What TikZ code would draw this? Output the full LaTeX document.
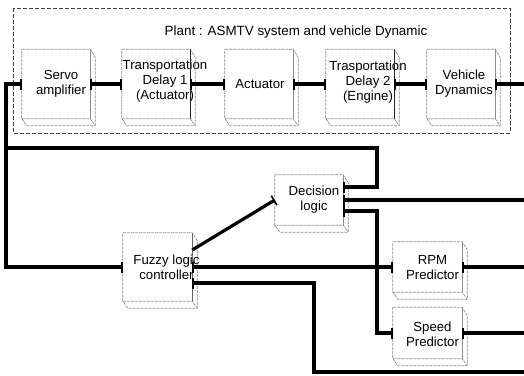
\documentclass[tikz,border=0pt]{standalone}
\usepackage{fontspec}
\setmainfont{Liberation Sans}
\usetikzlibrary{arrows.meta,calc}
\begin{document}
\begin{tikzpicture}[x=1pt,y=-1pt,
  conn/.style={line width=3.2pt},
  barend/.tip={Bar[width=11pt,line width=1.6pt]},
  box/.style={minimum width=68pt,inner sep=0pt,draw=none},
  lbl/.style={align=center,font=\fontsize{13.2}{15}\selectfont,inner sep=0pt},
  bev/.style={draw=black!45,line width=0.7pt,dash pattern=on 3pt off 1pt},
  border/.style={draw=black!75,line width=0.8pt,dash pattern=on 4pt off 2pt}
]
\useasboundingbox (0,0) rectangle (524,375);

% plant border and title
\draw[border] (13,8) rectangle (510,133);
\node[font=\fontsize{13.4}{15}\selectfont,inner sep=0pt] (title) at (296,32) {Plant : ASMTV system and vehicle Dynamic};

% blocks (front faces)
\node[box,minimum height=69pt,label={[lbl,xshift=5pt]center:{Servo\\amplifier}}] (servo) at (56,84) {};
\node[box,minimum height=69pt,label={[lbl,xshift=9pt,yshift=3pt]center:{Transportation\\Delay 1\\(Actuator)}}] (td1) at (156,84) {};
\node[box,minimum height=69pt,label={[lbl,xshift=1pt]center:{Actuator}}] (act) at (259,84) {};
\node[box,minimum height=69pt,label={[lbl,xshift=8pt,yshift=2pt]center:{Trasportation\\Delay 2\\(Engine)}}] (td2) at (360,84) {};
\node[box,minimum height=69pt,label={[lbl,xshift=3pt]center:{Vehicle\\Dynamics}}] (veh) at (461,84) {};
\node[box,minimum height=50pt,label={[lbl,xshift=5pt]center:{Decision\\logic}}] (dec) at (309,200) {};
\node[box,minimum width=69pt,minimum height=68pt,label={[lbl,xshift=9pt]center:{Fuzzy logic\\controller}}] (fuzzy) at (157.5,267) {};
\node[box,minimum width=69pt,minimum height=50pt,label={[lbl,xshift=5pt,yshift=-1pt]center:{RPM\\Predictor}}] (rpm) at (427.5,267) {};
\node[box,minimum width=69pt,minimum height=51pt,label={[lbl,xshift=5pt,yshift=-1pt]center:{Speed\\Predictor}}] (speed) at (427.5,333) {};

% bevelled 3D outlines
\foreach \n/\c in {servo/45,td1/85,act/45,td2/85,veh/45,dec/45,fuzzy/60,rpm/45,speed/45}{
  \draw[bev] (\n.north west) -- (\n.north east) -- ($(\n.north east)+(5,8)$)
     -- ($(\n.south east)+(5,7)$) -- ($(\n.south west)+(5,7)$) -- (\n.south west) -- cycle;
  \draw[bev] (\n.south west) -- (\n.south east) -- ($(\n.south east)+(5,7)$);
  \draw[draw=black!\c,line width=0.8pt] (\n.north east) -- (\n.south east);
}

% free-end coordinates
\coordinate (L1) at (6,84);
\coordinate (L2) at (6,148);
\coordinate (L3) at (6,267);
\coordinate (J1) at (377,148);
\coordinate (J2) at (377,187);
\coordinate (J3) at (377,211);
\coordinate (K1) at (314,283);
\coordinate (K2) at (314,372);
\coordinate (R) at (524,0);

% plant chain
\draw[conn,barend-barend] (servo.east) -- (td1.west);
\draw[conn,barend-barend] (td1.east) -- (act.west);
\draw[conn,barend-barend] (act.east) -- (td2.west);
\draw[conn,barend-barend] (td2.east) -- (veh.west);
\draw[conn,barend-] (veh.east) -- (veh.east -| R);

% controller loop to servo
\draw[conn,barend-barend] (fuzzy.west) -- (L3) -- (L1) -- (servo.west);

% top line into decision logic
\draw[conn,-barend] (L2) -- (J1) -- (J2) -- ([yshift=13pt]dec.east);
\draw[conn,barend-] (dec.east) -- (dec.east -| R);
\draw[conn,barend-barend] ([yshift=-11pt]dec.east) -- (J3) -- (J3 |- speed.west) -- (speed.west);

% fuzzy controller connections
\draw[conn,-barend] ([yshift=17pt]fuzzy.east) -- (dec.west);
\draw[conn,barend-barend] (fuzzy.east) -- (rpm.west);
\draw[conn,barend-] ([yshift=-16pt]fuzzy.east) -- (K1) -- (K2) -- (K2 -| R);

% predictors to the right
\draw[conn,barend-] (rpm.east) -- (rpm.east -| R);
\draw[conn,barend-] (speed.east) -- (speed.east -| R);
\end{tikzpicture}
\end{document}
